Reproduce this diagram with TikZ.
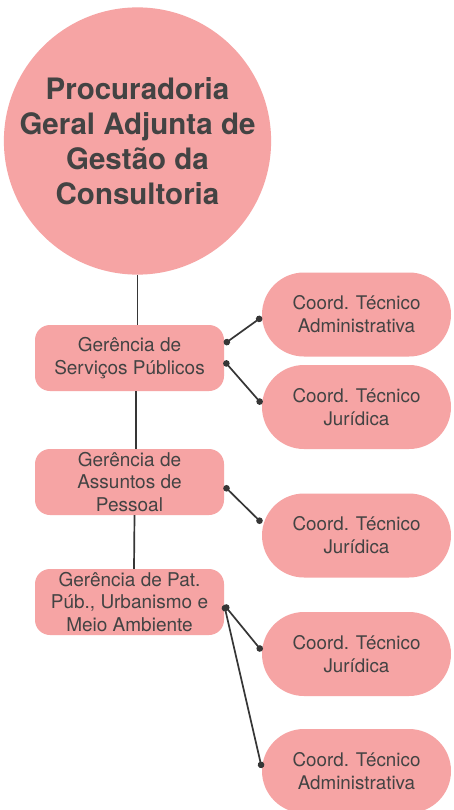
\documentclass[tikz,border=0pt]{standalone}
\usepackage{fontspec}
\setmainfont{TeX Gyre Heros}
\usepackage{tikz}
\usetikzlibrary{arrows.meta}
\definecolor{rosa}{HTML}{F6A4A4}
\definecolor{texto}{HTML}{434343}
\definecolor{linha}{HTML}{363636}
\tikzstyle{chefe} = [circle, fill=rosa, text=texto, align=center, minimum size=262pt, inner sep=0pt,
font=\bfseries\fontsize{29.5}{35}\selectfont]
\tikzstyle{gerencia} = [rectangle, fill=rosa, text=texto, align=center, rounded corners=15pt,
minimum width=189pt, minimum height=66pt, inner sep=0pt, font=\fontsize{19}{22.5}\selectfont]
\tikzstyle{coord} = [rectangle, fill=rosa, text=texto, align=center, rounded corners=42pt,
minimum width=189pt, minimum height=84pt, inner sep=0pt, font=\fontsize{18.8}{23}\selectfont]
\tikzstyle{line} = [draw=linha, line width=1.7pt]
\tikzstyle{ponto} = [line, {Circle[length=6.5pt]}-{Circle[length=6.5pt]}]

\begin{document}
\begin{tikzpicture}[x=1pt, y=1pt, node distance=120pt]
			\fill [white] (0,0) rectangle (453,-810);
			\useasboundingbox (0,0) rectangle (453,-810);
			\begin{scope}
			\clip (0,0) rectangle (453,-810);
			\node [chefe] (pgacon) at (137.5,-141) {Procuradoria\\Geral Adjunta de\\Gestão da\\Consultoria};
			\node [gerencia, below of=pgacon, xshift=-8pt, node distance=217pt] (gsp) {Gerência de\\Serviços Públicos};
			\node [gerencia, below of=gsp, node distance=124pt] (gap) {Gerência de\\Assuntos de\\Pessoal};
			\node [gerencia, below of=gap] (gpp) {Gerência de Pat.\\Púb., Urbanismo e\\Meio Ambiente};
			\node [coord, right of=gsp, node distance=227pt, yshift=43.5pt] (cta1) {Coord. Técnico\\Administrativa};
			\node [coord, right of=gsp, node distance=227pt, yshift=-49pt] (cjur1) {Coord. Técnico\\Jurídica};
			\node [coord, right of=gap, node distance=227pt, yshift=-53.5pt] (cjur2) {Coord. Técnico\\Jurídica};
			\node [coord, right of=gpp, node distance=227pt, yshift=-52pt] (cjur3) {Coord. Técnico\\Jurídica};
			\node [coord, below of=cjur3, node distance=117pt] (cta2) {Coord. Técnico\\Administrativa};
			\end{scope}
			% ligacoes verticais
			\path [line] (pgacon.south) -- (pgacon.south |- gsp.north);
			\path [line] ([xshift=6.5pt]gsp.south) -- ([xshift=6.5pt]gap.north);
			\path [line] ([xshift=5pt]gap.south) -- ([xshift=4.5pt]gpp.north);
			% coordenacoes
			\path [ponto] ([yshift=14pt]gsp.east) -- ([yshift=-2.5pt]cta1.west);
			\path [ponto] ([yshift=-3pt]gsp.east) -- ([yshift=3pt]cjur1.west);
			\path [ponto] ([yshift=-4pt]gap.east) -- ([yshift=12.5pt]cjur2.west);
			\path [ponto] ([yshift=-3pt]gpp.east) -- ([yshift=3pt]cjur3.west);
			\path [ponto] ([yshift=-3pt]gpp.east) -- ([yshift=3pt]cta2.west);
		\end{tikzpicture}
\end{document}
